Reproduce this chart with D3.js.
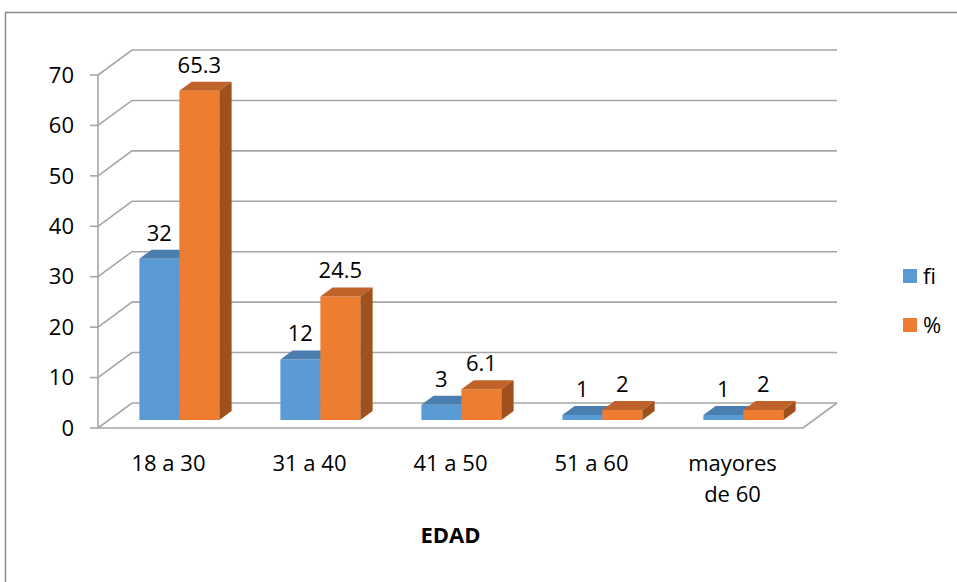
<!DOCTYPE html>
<html>
<head>
<meta charset="utf-8">
<script src="https://cdn.jsdelivr.net/npm/d3@7"></script>
<style>
  body { margin: 0; background: #fff; }
  text { font-family: "Open Sans", "DejaVu Sans", sans-serif; fill: #000; }
</style>
</head>
<body>
<svg id="chart" width="957" height="582"></svg>
<script>
// chart data
var categories = [['18 a 30'], ['31 a 40'], ['41 a 50'], ['51 a 60'], ['mayores', 'de 60']];
var fi = [32, 12, 3, 1, 1];
var pct = [65.3, 24.5, 6.1, 2, 2];
var pctLabels = ['65.3', '24.5', '6.1', '2', '2'];
var seriesNames = ['fi', '%'];
var yTicks = [0, 10, 20, 30, 40, 50, 60, 70];

var svg = d3.select('#chart');

// front plane of the 3d box, plus the depth offset of the back wall
var depthX = 34, depthY = -25;
var x = d3.scaleBand().domain(d3.range(categories.length)).range([98, 803]);
var y = d3.scaleLinear().domain([0, 70]).range([428, 75]);

function px(xx, t) { return xx + t * depthX; }
function py(v, t) { return y(v) + t * depthY; }

// outer frame
svg.append('rect')
    .attr('x', 5.5).attr('y', 12.5)
    .attr('width', 960).attr('height', 580)
    .attr('fill', 'none').attr('stroke', '#8c8c8c').attr('stroke-width', 1.5);

var grid = svg.append('g')
    .attr('stroke', '#a6a6a6').attr('stroke-width', 1.6).attr('fill', 'none');

var x0 = x.range()[0], x1 = x.range()[1];

// back wall gridlines + side wall diagonals
yTicks.forEach(function(v) {
  grid.append('path')
      .attr('d', 'M' + x0 + ',' + y(v) + 'L' + px(x0, 1) + ',' + py(v, 1) + 'L' + px(x1, 1) + ',' + py(v, 1));
  grid.append('line')
      .attr('x1', x0 - 8).attr('x2', x0)
      .attr('y1', y(v)).attr('y2', y(v));
});

// floor front edge and right edge
grid.append('path')
    .attr('d', 'M' + x0 + ',' + y(0) + 'L' + x1 + ',' + y(0) + 'L' + px(x1, 1) + ',' + py(0, 1));
// vertical axis
grid.append('line')
    .attr('x1', x0).attr('x2', x0)
    .attr('y1', y(0)).attr('y2', y(70));

// y labels
svg.append('g').selectAll('text')
    .data(yTicks)
  .enter().append('text')
    .attr('x', 74)
    .attr('y', function(d) { return y(d); })
    .attr('dy', '0.35em')
    .attr('text-anchor', 'end')
    .attr('font-size', 22)
    .text(function(d) { return d; });

// bars
var t1 = 0.32, t2 = 0.68, barW = 40;
var colors = [
  {front: '#5b9bd5', top: '#4a7eae', side: '#3f6d98'},
  {front: '#ed7d31', top: '#c0632a', side: '#a0501c'}
];

function drawBar(g, left, v, c) {
  var right = left + barW;
  var pts = function(a) { return a.map(function(p) { return p.join(','); }).join(' '); };
  // front face
  g.append('polygon').attr('fill', c.front).attr('points', pts([
    [px(left, t1), py(0, t1)], [px(right, t1), py(0, t1)],
    [px(right, t1), py(v, t1)], [px(left, t1), py(v, t1)]
  ]));
  // top face
  g.append('polygon').attr('fill', c.top).attr('points', pts([
    [px(left, t1), py(v, t1)], [px(right, t1), py(v, t1)],
    [px(right, t2), py(v, t2)], [px(left, t2), py(v, t2)]
  ]));
  // side face
  g.append('polygon').attr('fill', c.side).attr('points', pts([
    [px(right, t1), py(0, t1)], [px(right, t2), py(0, t2)],
    [px(right, t2), py(v, t2)], [px(right, t1), py(v, t1)]
  ]));
}

var bars = svg.append('g');
categories.forEach(function(cat, i) {
  var cx = x(i) + x.bandwidth() / 2;
  var g = bars.append('g');
  drawBar(g, cx - barW, fi[i], colors[0]);
  drawBar(g, cx, pct[i], colors[1]);

  g.append('text')
      .attr('x', px(cx - barW / 2, t1))
      .attr('y', py(fi[i], t2) - 9)
      .attr('text-anchor', 'middle')
      .attr('font-size', 22)
      .text(fi[i]);
  g.append('text')
      .attr('x', px(cx + barW / 2, t1))
      .attr('y', py(pct[i], t2) - 9)
      .attr('text-anchor', 'middle')
      .attr('font-size', 22)
      .text(pctLabels[i]);

  // category label
  var lab = svg.append('text')
      .attr('x', cx)
      .attr('y', 471)
      .attr('text-anchor', 'middle')
      .attr('font-size', 22);
  cat.forEach(function(line, k) {
    lab.append('tspan').attr('x', cx).attr('dy', k === 0 ? 0 : 31).text(line);
  });
});

// axis title
svg.append('text')
    .attr('x', (x0 + x1) / 2)
    .attr('y', 543)
    .attr('text-anchor', 'middle')
    .attr('font-size', 22)
    .attr('font-weight', 'bold')
    .text('EDAD');

// legend
var legend = svg.append('g').selectAll('g')
    .data(seriesNames)
  .enter().append('g')
    .attr('transform', function(d, i) { return 'translate(903,' + (269 + i * 49) + ')'; });
legend.append('rect')
    .attr('width', 14).attr('height', 14)
    .attr('fill', function(d, i) { return colors[i].front; });
legend.append('text')
    .attr('x', 20).attr('y', 7).attr('dy', '0.35em')
    .attr('font-size', 22)
    .text(function(d) { return d; });
</script>
</body>
</html>
